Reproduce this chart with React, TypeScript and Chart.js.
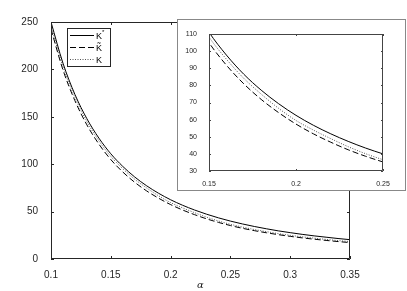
import React, { useEffect, useRef } from "react";
import { Chart, registerables } from "chart.js";
Chart.register(...registerables);

const alphas = [0.10, 0.11, 0.12, 0.13, 0.14, 0.15, 0.16, 0.17, 0.18, 0.19, 0.20, 0.21, 0.22, 0.23, 0.24, 0.25, 0.26, 0.27, 0.28, 0.29, 0.30, 0.31, 0.32, 0.33, 0.34, 0.35];
const kStar = [250, 206.6, 173.6, 148, 127.6, 111, 97.7, 86.5, 77.2, 69.3, 62.5, 56.7, 51.7, 47.3, 43.4, 40, 37, 34.3, 31.9, 29.7, 27.8, 26, 24.4, 23, 21.6, 20.4];
const kTilde = [242.5, 199.5, 167, 141.5, 121.3, 104.9, 91.8, 80.9, 71.8, 64.1, 57.4, 51.7, 46.8, 42.4, 38.6, 35.3, 32.4, 29.9, 27.7, 25.7, 23.9, 22.3, 20.9, 19.6, 18.4, 17.3];
const kPlain = [246, 203, 170.5, 145, 124.8, 108.2, 95.3, 84.1, 74.9, 66.6, 59.5, 53.9, 48.9, 44.2, 40.1, 36.6, 33.7, 31.1, 28.9, 26.8, 25, 23.4, 22, 20.7, 19.4, 18.4];
const legendLabels = ["K*", "K\u0303", "K"];
const xTitle = "\u03b1";

const FONT = "'Liberation Sans', Arial, sans-serif";
const TXT = "#262626";

const pts = (ys: number[]) => alphas.map((a, i) => ({ x: a, y: ys[i] }));

const makeDatasets = (w: number) => [
  { label: legendLabels[0], data: pts(kStar), borderColor: "#000", borderWidth: w, pointRadius: 0, cubicInterpolationMode: "monotone" as const },
  { label: legendLabels[1], data: pts(kTilde), borderColor: "#000", borderWidth: w, borderDash: [6, 3], pointRadius: 0, cubicInterpolationMode: "monotone" as const },
  { label: legendLabels[2], data: pts(kPlain), borderColor: "#555", borderWidth: w, borderDash: [1, 1.5], pointRadius: 0, cubicInterpolationMode: "monotone" as const },
];

const framePlugin = (tickLen: number, color: string) => ({
  id: "frame",
  afterDatasetsDraw(chart: any) {
    const { ctx, chartArea: { left, right, top, bottom }, scales: { x, y } } = chart;
    ctx.save();
    ctx.strokeStyle = color;
    ctx.lineWidth = 1;
    ctx.beginPath();
    ctx.rect(left + 0.5, top + 0.5, right - left - 1, bottom - top - 1);
    x.ticks.forEach((t: any) => {
      const px = Math.round(x.getPixelForValue(t.value)) + 0.5;
      ctx.moveTo(px, bottom); ctx.lineTo(px, bottom - tickLen);
      ctx.moveTo(px, top); ctx.lineTo(px, top + tickLen);
    });
    y.ticks.forEach((t: any) => {
      const py = Math.round(y.getPixelForValue(t.value)) + 0.5;
      ctx.moveTo(left, py); ctx.lineTo(left + tickLen, py);
      ctx.moveTo(right, py); ctx.lineTo(right - tickLen, py);
    });
    ctx.stroke();
    ctx.restore();
  },
});

const legendPlugin = {
  id: "customLegend",
  afterDraw(chart: any) {
    const { ctx } = chart;
    const bx = 67, by = 28, bw = 43, bh = 38;
    ctx.save();
    ctx.fillStyle = "#fff";
    ctx.fillRect(bx, by, bw, bh);
    ctx.strokeStyle = "#262626";
    ctx.lineWidth = 1;
    ctx.strokeRect(bx + 0.5, by + 0.5, bw, bh);
    const rows = [35.5, 47.5, 59.5];
    chart.data.datasets.forEach((ds: any, i: number) => {
      ctx.strokeStyle = ds.borderColor;
      ctx.setLineDash(ds.borderDash || []);
      ctx.beginPath();
      ctx.moveTo(70, rows[i]);
      ctx.lineTo(94, rows[i]);
      ctx.stroke();
      ctx.setLineDash([]);
      ctx.fillStyle = "#000";
      ctx.font = `9px ${FONT}`;
      ctx.textBaseline = "middle";
      const lab: string = legendLabels[i];
      if (lab.endsWith("*")) {
        ctx.fillText(lab.slice(0, -1), 96, rows[i] + 1);
        ctx.font = `6px ${FONT}`;
        ctx.fillText("*", 102, rows[i] - 3);
      } else {
        ctx.fillText(lab, 96, rows[i] + 1);
      }
    });
    ctx.restore();
  },
};

function MainChart() {
  const ref = useRef<HTMLCanvasElement>(null);
  useEffect(() => {
    const chart = new Chart(ref.current!, {
      type: "line",
      data: { datasets: makeDatasets(1) },
      options: {
        animation: false,
        responsive: false,
        layout: { padding: { left: 0, right: 57, top: 22, bottom: 0 } },
        plugins: { legend: { display: false }, tooltip: { enabled: false } },
        scales: {
          x: {
            type: "linear", min: 0.1, max: 0.35,
            afterBuildTicks: (s: any) => { s.ticks = [0.1, 0.15, 0.2, 0.25, 0.3, 0.35].map((v) => ({ value: v })); },
            afterFit: (s: any) => { s.height = 32; },
            grid: { display: false }, border: { display: false },
            ticks: { color: TXT, font: { family: FONT, size: 10 }, padding: 2, maxRotation: 0, callback: (v: any) => String(Math.round(v * 100) / 100) },
            title: { display: true, text: xTitle, color: TXT, font: { family: "'DejaVu Serif', serif", size: 10, style: "italic" }, padding: { top: 0, bottom: 0 } },
          },
          y: {
            type: "linear", min: 0, max: 250,
            afterBuildTicks: (s: any) => { s.ticks = [0, 50, 100, 150, 200, 250].map((v) => ({ value: v })); },
            afterFit: (s: any) => { s.width = 51; },
            grid: { display: false }, border: { display: false },
            ticks: { color: TXT, font: { family: FONT, size: 10 }, padding: 5 },
          },
        },
      },
      plugins: [framePlugin(3, "#262626"), legendPlugin],
    });
    return () => chart.destroy();
  }, []);
  return <canvas ref={ref} width={407} height={291} style={{ position: "absolute", left: 0, top: 0 }} />;
}

function InsetChart() {
  const ref = useRef<HTMLCanvasElement>(null);
  useEffect(() => {
    const chart = new Chart(ref.current!, {
      type: "line",
      data: { datasets: makeDatasets(1) },
      options: {
        animation: false,
        responsive: false,
        layout: { padding: { left: 0, right: 22, top: 14, bottom: 0 } },
        plugins: { legend: { display: false }, tooltip: { enabled: false } },
        scales: {
          x: {
            type: "linear", min: 0.15, max: 0.25,
            afterBuildTicks: (s: any) => { s.ticks = [0.15, 0.2, 0.25].map((v) => ({ value: v })); },
            afterFit: (s: any) => { s.height = 19; },
            grid: { display: false }, border: { display: false },
            ticks: { color: TXT, font: { family: FONT, size: 7 }, padding: 1, maxRotation: 0, callback: (v: any) => String(Math.round(v * 100) / 100) },
          },
          y: {
            type: "linear", min: 30, max: 110,
            afterBuildTicks: (s: any) => { s.ticks = [30, 40, 50, 60, 70, 80, 90, 100, 110].map((v) => ({ value: v })); },
            afterFit: (s: any) => { s.width = 31; },
            grid: { display: false }, border: { display: false },
            ticks: { color: TXT, font: { family: FONT, size: 7 }, padding: 4 },
          },
        },
      },
      plugins: [framePlugin(2, "#444")],
    });
    return () => chart.destroy();
  }, []);
  return (
    <div style={{ position: "absolute", left: 178, top: 20, width: 227, height: 170, background: "#fff", outline: "1px solid #888", boxSizing: "border-box" }}>
      <canvas ref={ref} width={227} height={170} style={{ display: "block" }} />
    </div>
  );
}

export default function App() {
  return (
    <div style={{ position: "fixed", left: 0, top: 0, width: 407, height: 291, background: "#fff", overflow: "hidden" }}>
      <MainChart />
      <InsetChart />
    </div>
  );
}
